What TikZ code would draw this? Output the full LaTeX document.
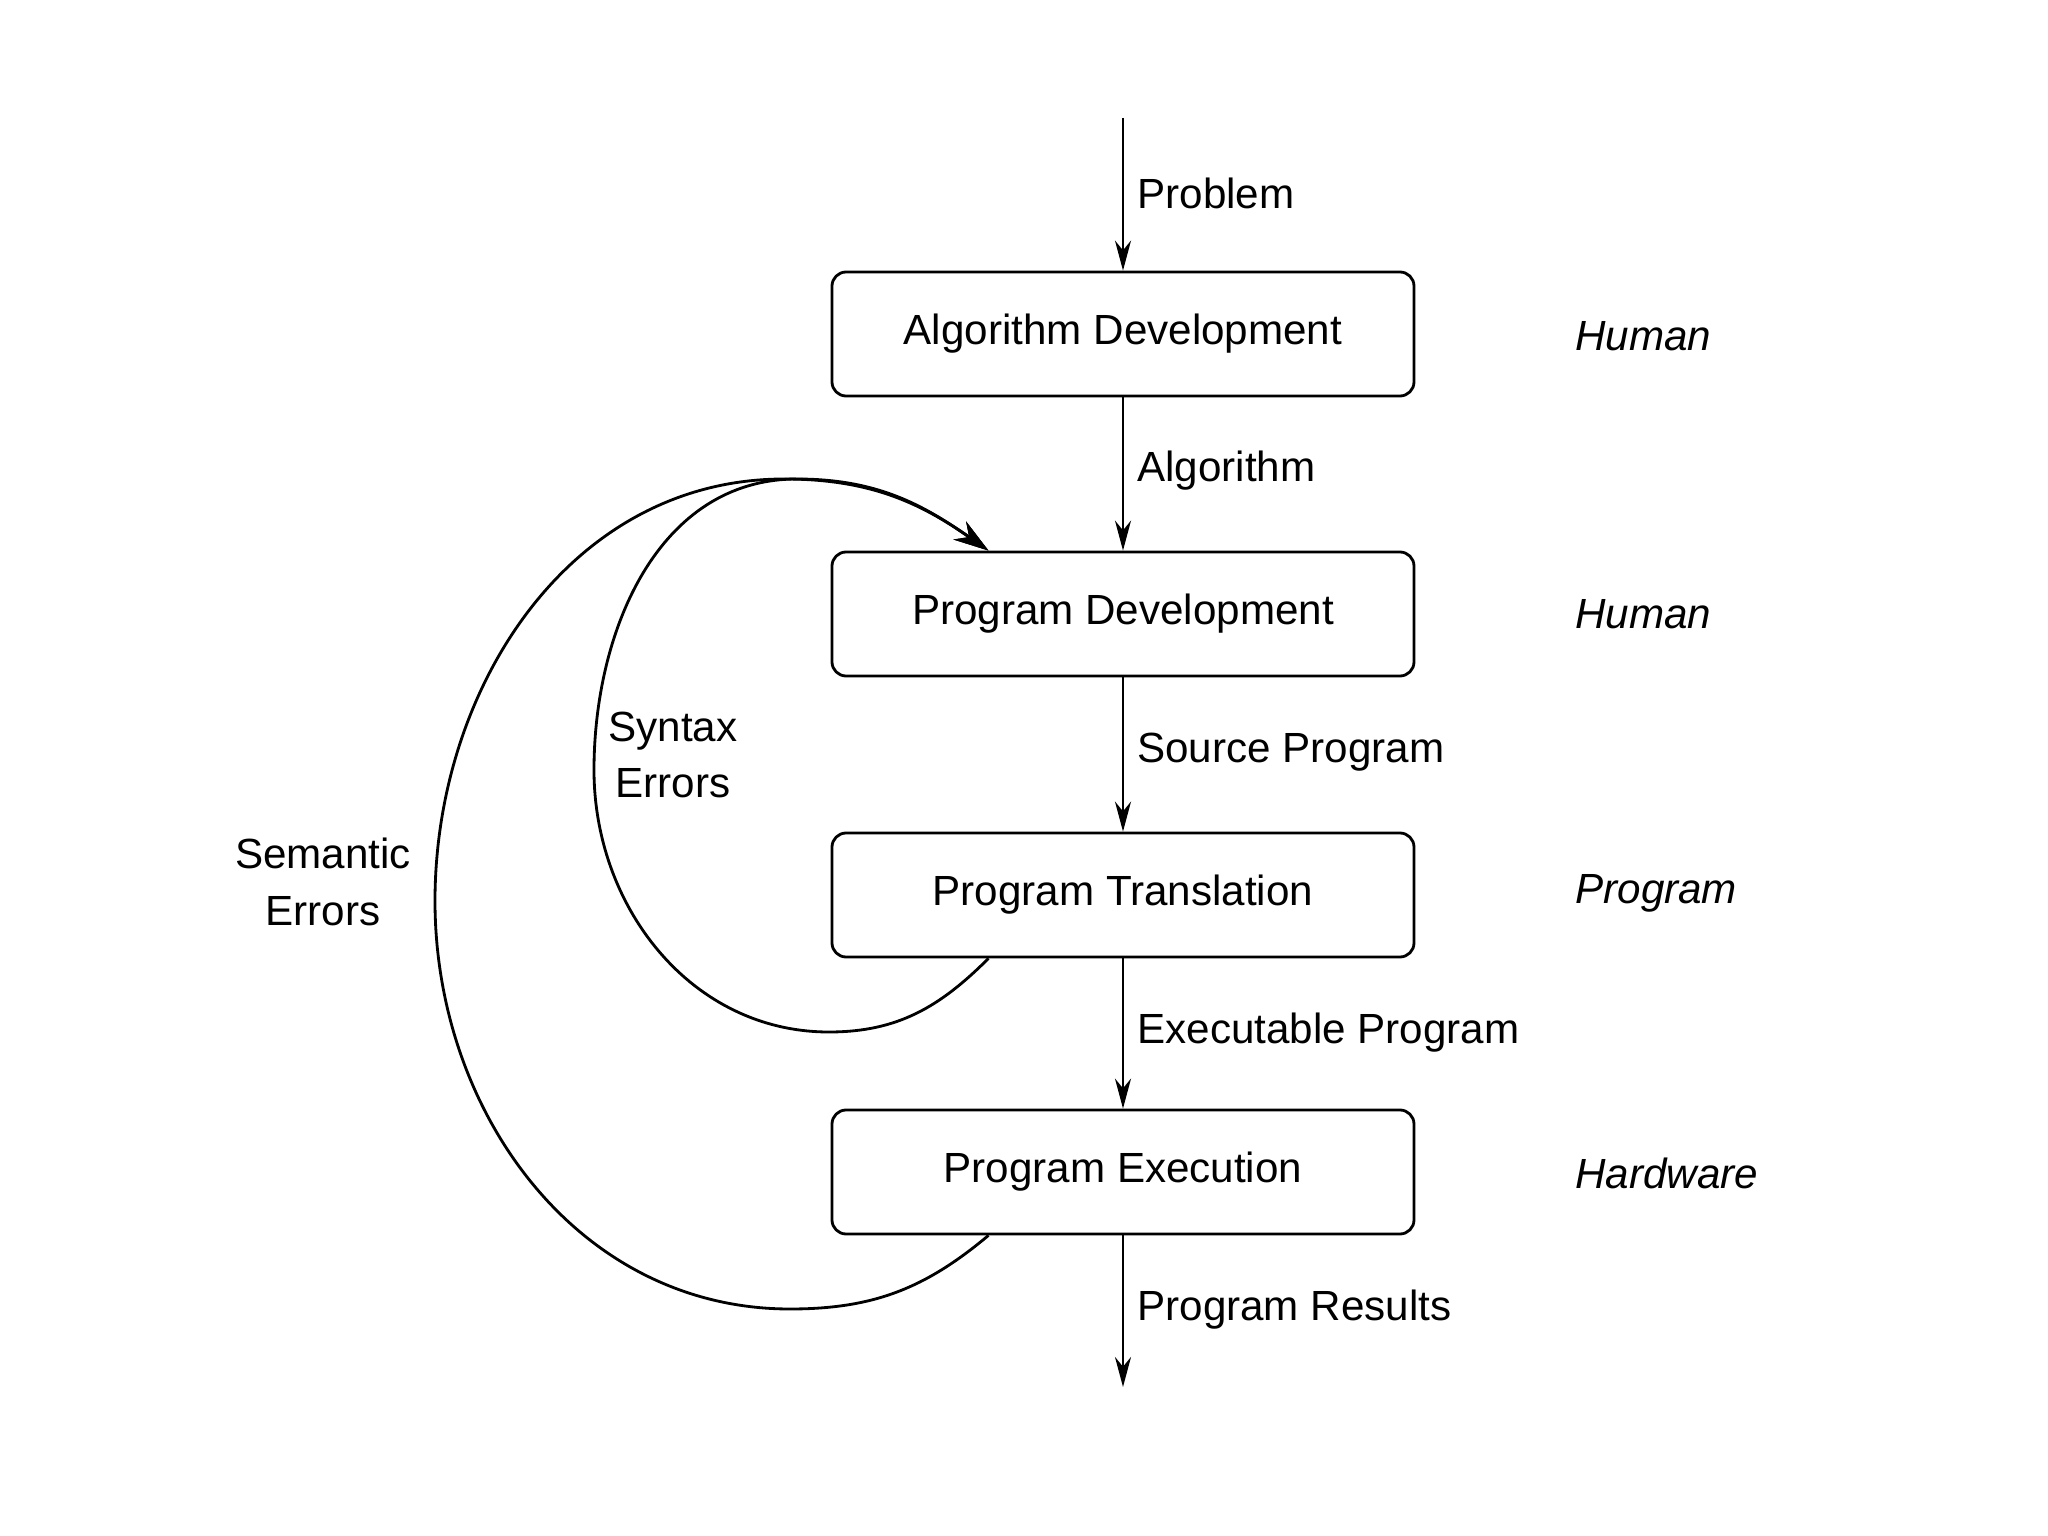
\documentclass[tikz,border=0pt]{standalone}
\usepackage{fontspec}
\setmainfont{Liberation Sans}
\usetikzlibrary{arrows.meta,calc}
\begin{document}
\begin{tikzpicture}[
  font=\fontsize{12}{14}\selectfont,
  line width=0.8pt,
  stagebox/.style={draw, rounded corners=4pt, minimum width=5.82cm, minimum height=1.24cm, inner sep=0pt},
  flow/.style={-{Stealth[length=3mm,width=1.6mm]}},
  loop/.style={-{Stealth[length=3.5mm,width=2.2mm]}},
  elabel/.style={anchor=west, inner sep=0pt},
  side/.style={anchor=west, inner sep=0pt, font=\fontsize{12}{14}\selectfont\itshape},
  errlabel/.style={align=center, inner sep=0pt, font=\fontsize{12}{16}\selectfont}
]
\useasboundingbox (0,0) rectangle (20.48,-15.36);

\node[stagebox] (ad) at (11.23,-3.34) {Algorithm Development};
\node[stagebox] (pd) at (11.23,-6.14) {Program Development};
\node[stagebox] (pt) at (11.23,-8.95) {Program Translation};
\node[stagebox] (pe) at (11.23,-11.72) {Program Execution};

\coordinate (top) at (11.23,-1.18);
\coordinate (bot) at (11.23,-13.87);

\draw[flow] (top) -- (ad.north);
\draw[flow] (ad.south) -- (pd.north);
\draw[flow] (pd.south) -- (pt.north);
\draw[flow] (pt.south) -- (pe.north);
\draw[flow] (pe.south) -- (bot);

\node[elabel] (l1) at (11.36,-1.93) {Problem};
\node[elabel] (l2) at (11.36,-4.71) {Algorithm};
\node[elabel] (l3) at (11.36,-7.52) {Source Program};
\node[elabel] (l4) at (11.36,-10.33) {Executable Program};
\node[elabel] (l5) at (11.36,-13.10) {Program Results};

\node[side] (s1) at (15.74,-3.36) {Human};
\node[side] (s2) at (15.74,-6.14) {Human};
\node[side] (s3) at (15.74,-8.93) {Program};
\node[side] (s4) at (15.74,-11.73) {Hardware};

\coordinate (synS) at ($(pt.south west)!0.27!(pt.south east)$);
\coordinate (semS) at ($(pe.south west)!0.27!(pe.south east)$);
\coordinate (tgt) at ($(pd.north west)!0.27!(pd.north east)$);

\draw[loop] (synS) to[out=-135,in=0] (8.29,-10.32)
  to[out=180,in=-90] (5.94,-7.70)
  to[out=90,in=180] (7.97,-4.79)
  to[out=0,in=145] (tgt);
\draw[loop] (semS) to[out=-140,in=0] (7.90,-13.09)
  to[out=180,in=-90] (4.35,-9.01)
  to[out=90,in=180] (7.84,-4.79)
  to[out=0,in=145] (tgt);

\node[errlabel] (syn) at (6.73,-7.55) {Syntax\\Errors};
\node[errlabel] (sem) at (3.23,-8.82) {Semantic\\Errors};
\end{tikzpicture}
\end{document}
